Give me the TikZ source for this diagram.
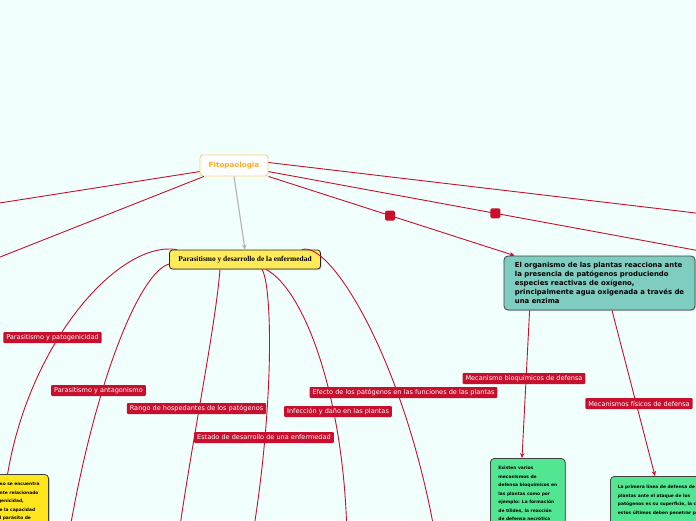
\documentclass[tikz,border=0pt]{standalone}
\usepackage{fontspec}
\setmainfont{DejaVu Sans}
\newfontfamily\titlefont{Liberation Serif}
\usetikzlibrary{arrows.meta,shadows}

\definecolor{bgmint}{RGB}{241,255,252}
\definecolor{linkred}{RGB}{200,16,46}
\definecolor{rootline}{RGB}{255,205,110}
\definecolor{rootorange}{RGB}{255,172,30}
\definecolor{topicyellow}{RGB}{255,234,90}
\definecolor{tealfill}{RGB}{127,205,192}
\definecolor{greenfill}{RGB}{82,230,146}
\definecolor{noteyellow}{RGB}{255,230,28}

\begin{document}
\begin{tikzpicture}[x=1pt, y=-1pt,
    root/.style={draw=rootline, fill=white, rounded corners=3pt, line width=0.9pt,
                 minimum width=68pt, minimum height=21pt, text=rootorange,
                 font=\bfseries\fontsize{7.2}{8}\selectfont},
    topic/.style={draw=black!85, fill=topicyellow, rounded corners=3pt, line width=0.8pt,
                  minimum width=151pt, minimum height=19pt,
                  font=\titlefont\bfseries\fontsize{7.4}{8}\selectfont,
                  drop shadow={shadow xshift=1pt, shadow yshift=-1pt, opacity=0.35}},
    idea/.style={draw=black!75, rounded corners=4pt, line width=0.8pt, align=left,
                 drop shadow={shadow xshift=1pt, shadow yshift=-1pt, opacity=0.35}},
    small/.style={idea, anchor=north west, inner ysep=8pt,
                  font=\bfseries\fontsize{4.4}{8.5}\selectfont},
    tag/.style={fill=linkred, text=white, rounded corners=1pt, inner xsep=3pt,
                inner ysep=1pt, minimum height=11pt, font=\fontsize{6.55}{7.5}\selectfont},
    link/.style={draw=linkred, line width=0.9pt},
    knob/.style={fill=linkred, rounded corners=1.5pt, minimum size=10pt, inner sep=0pt},
  ]
  \fill[bgmint] (0,0) rectangle (696,520);
  \useasboundingbox (0,0) rectangle (696,520);
  \clip (0,0) rectangle (696,520);

  % Main topics
  \node[root] (fito) at (234,165.5) {Fitopaologia};
  \node[topic] (paras) at (245,259.5) {Parasitismo y desarrollo de la enfermedad};
  \node[idea, fill=tealfill, minimum width=191pt, minimum height=54pt,
        font=\bfseries\fontsize{6.9}{9}\selectfont] (organ) at (599.5,283)
    {El organismo de las plantas reacciona ante\\
     la presencia de patógenos produciendo\\
     especies reactivas de oxígeno,\\
     principalmente agua oxigenada a través de\\
     una enzima};

  % Notes at the bottom (cut by the frame)
  \node[small, fill=greenfill, minimum width=73pt, inner xsep=8pt] (bio) at (490,458)
    {Existen varios\\ mecanismos de\\ defensa bioquímicos en\\ las plantas como por\\
     ejemplo: La formación\\ de tílides, la reacción\\ de defensa necrótica};
  \node[small, fill=greenfill, inner xsep=7.5pt, inner ysep=9pt] (fis) at (610,476)
    {La primera línea de defensa de las\\ plantas ante el ataque de los\\
     patógenos es su superficie, la cual\\ estos últimos deben penetrar para};
  \node[small, fill=noteyellow, text width=74pt, inner xsep=4pt, anchor=north east] (note) at (49,474)
    {El parasitismo se encuentra\\ estrechamente relacionado\\ con la patogenicidad,\\
     debido a que la capacidad\\ infectiva del parásito de};

  % Ends that leave the frame
  \coordinate (lout1) at (-10,204.5);
  \coordinate (lout2) at (-10,261);
  \coordinate (rout1) at (710,214.7);
  \coordinate (rout2) at (710,252.8);
  \coordinate (bout2) at (68,540);
  \coordinate (bout3) at (178,540);
  \coordinate (bout4) at (252,540);
  \coordinate (bout5) at (347,540);
  \coordinate (bout6) at (436,540);

  % Links from the root
  \draw[link] (fito.190) -- (lout1);
  \draw[link] (fito.200) -- (lout2);
  \draw[link] (fito.5) -- (rout1);
  \draw[link] (fito.-10) -- node[knob, pos=0.514] {} (rout2);
  \draw[link, -{Stealth[length=5pt,width=4.5pt]}] (fito.south east)
    -- node[knob, pos=0.494] {} ([xshift=11pt]organ.north west);
  \draw[draw=black!30, line width=1.1pt, -{Stealth[length=5pt,width=4.5pt]}]
    (fito.south) -- (paras.north);

  % Branches of the yellow topic
  \draw[link] ([xshift=-68pt]paras.north) .. controls (120,240) and (30,340) .. (note.north);
  \draw[link] ([yshift=-4.5pt]paras.west) .. controls (140,272) and (95,380) .. (bout2);
  \draw[link] ([xshift=-25pt]paras.south) .. controls (215,330) and (192,440) .. (bout3);
  \draw[link] ([xshift=17pt]paras.south) .. controls (272,285) and (275,400) .. (bout4);
  \draw[link] ([xshift=21pt]paras.south) .. controls (305,290) and (345,400) .. (bout5);
  \draw[link] ([xshift=57pt]paras.north) .. controls (330,240) and (405,360) .. (bout6);

  % Branches of the teal idea
  \draw[link, -{Stealth[length=5pt,width=4.5pt]}] ([xshift=26pt]organ.south west)
    -- ([xshift=32pt]bio.north west);
  \draw[link, -{Stealth[length=5pt,width=4.5pt]}] ([xshift=12.5pt]organ.south)
    -- ([xshift=45pt]fis.north west);

  % Labels on the links
  \node[tag] (tpato) at (52.5,337.5) {Parasitismo y patogenicidad};
  \node[tag] (tanta) at (98.5,390.5) {Parasitismo y antagonismo};
  \node[tag] (trango) at (196.5,408.5) {Rango de hospedantes de los patógenos};
  \node[tag] (testado) at (264,437.5) {Estado de desarrollo de una enfermedad};
  \node[tag] (tinfec) at (338,411.5) {Infección y daño en las plantas};
  \node[tag] (tefecto) at (403.5,392.5) {Efecto de los patógenos en las funciones de las plantas};
  \node[tag] (tbio) at (524,378.5) {Mecanismo bioquímicos de defensa};
  \node[tag] (tfis) at (639,403.5) {Mecanismos físicos de defensa};
\end{tikzpicture}
\end{document}
